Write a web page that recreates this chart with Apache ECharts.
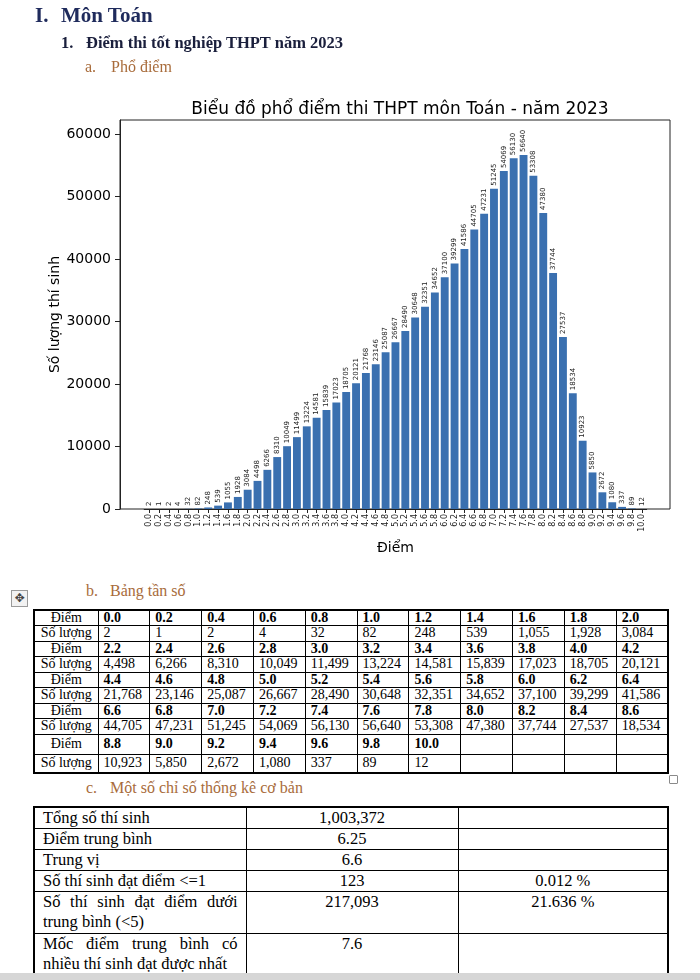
<!DOCTYPE html>
<html><head><meta charset="utf-8">
<script src="https://cdn.jsdelivr.net/npm/echarts@6.0.0/dist/echarts.min.js"></script>
<style>
html,body{margin:0;padding:0;background:#fff;}
body{width:700px;height:980px;position:relative;overflow:hidden;font-family:'Liberation Serif','Times New Roman',serif;color:#000;}
#chart{position:absolute;left:0;top:0;width:700px;height:580px;}
.t{position:absolute;white-space:nowrap;line-height:1;}
.h1{font-size:21px;font-weight:bold;color:#1f2b5c;}
.h2{font-size:16.5px;font-weight:bold;color:#1a1f3c;}
.h3{font-size:16px;color:#a86b3a;}
#freq{position:absolute;left:33px;top:609px;width:636px;border-collapse:collapse;table-layout:fixed;font-size:14px;border:2px solid #000;}
#freq td{border:1px solid #000;padding:0 0 0 5px;line-height:14px;vertical-align:middle;white-space:nowrap;overflow:hidden;}
#freq td.lab{text-align:center;padding:0;}
#freq tr.pts td.v{font-weight:bold;}
#stats{position:absolute;left:33px;top:806px;width:636px;border-collapse:collapse;table-layout:fixed;font-size:16.5px;border:2px solid #000;}
#stats td{border:1px solid #000;vertical-align:top;line-height:20px;padding:0;}
#stats td.c1{padding:0 8px 0 8px;}
#stats td.c2,#stats td.c3{text-align:center;}
.jl{text-align:justify;text-align-last:justify;}
#mv{position:absolute;left:11px;top:590px;width:15px;height:15px;border:1px solid #9a9a9a;background:#f2f2f2;font-family:'DejaVu Sans';font-size:12px;line-height:15px;text-align:center;color:#444;}
#sq{position:absolute;left:669px;top:775px;width:7px;height:7px;border:1px solid #8a8a8a;background:#fff;border-radius:1px;}
#bot{position:absolute;left:0;top:973px;width:700px;height:7px;background:#d6d6d6;}
</style></head>
<body>
<div id="chart"></div>
<div class="t h1" style="left:35px;top:5px;">I.</div>
<div class="t h1" style="left:61px;top:5px;">Môn Toán</div>
<div class="t h2" style="left:61px;top:35px;">1.</div>
<div class="t h2" style="left:86px;top:35px;">Điểm thi tốt nghiệp THPT năm 2023</div>
<div class="t h3" style="left:85px;top:59px;">a.</div>
<div class="t h3" style="left:111px;top:59px;">Phổ điểm</div>
<div id="mv">✥</div>
<div class="t h3" style="left:86px;top:583px;">b.</div>
<div class="t h3" style="left:110px;top:583px;">Bảng tần số</div>
<table id="freq"></table>
<div id="sq"></div>
<div class="t h3" style="left:86px;top:780px;">c.</div>
<div class="t h3" style="left:110px;top:780px;">Một số chỉ số thống kê cơ bản</div>
<table id="stats"></table>
<div id="bot"></div>
<script>
const scores = ['0.0','0.2','0.4','0.6','0.8','1.0','1.2','1.4','1.6','1.8','2.0',
  '2.2','2.4','2.6','2.8','3.0','3.2','3.4','3.6','3.8','4.0','4.2',
  '4.4','4.6','4.8','5.0','5.2','5.4','5.6','5.8','6.0','6.2','6.4',
  '6.6','6.8','7.0','7.2','7.4','7.6','7.8','8.0','8.2','8.4','8.6',
  '8.8','9.0','9.2','9.4','9.6','9.8','10.0'];
const counts = [2,1,2,4,32,82,248,539,1055,1928,3084,
  4498,6266,8310,10049,11499,13224,14581,15839,17023,18705,20121,
  21768,23146,25087,26667,28490,30648,32351,34652,37100,39299,41586,
  44705,47231,51245,54069,56130,56640,53308,47380,37744,27537,18534,
  10923,5850,2672,1080,337,89,12];
const yTicks = [0,10000,20000,30000,40000,50000,60000];

const statLabels = [
  ['Tổng số thí sinh'],
  ['Điểm trung bình'],
  ['Trung vị'],
  ['Số thí sinh đạt điểm <=1'],
  ['Số thí sinh đạt điểm dưới','trung bình (<5)'],
  ['Mốc điểm trung bình có','nhiều thí sinh đạt được nhất']
];
const statValues = ['1,003,372','6.25','6.6','123','217,093','7.6'];
const statPercents = ['','','','0.012 %','21.636 %',''];

// frequency table
(function(){
  const t = document.getElementById('freq');
  let html = '<colgroup><col style="width:64px">';
  for (let i=0;i<11;i++) html += '<col>';
  html += '</colgroup>';
  const heights = [[15.5,15.5],[15.5,15.5],[15.5,15.5],[15.5,15.5],[20,19]];
  for (let r=0;r<5;r++){
    let a = '<tr class="pts" style="height:'+heights[r][0]+'px"><td class="lab">Điểm</td>';
    let b = '<tr style="height:'+heights[r][1]+'px"><td class="lab">Số lượng</td>';
    for (let c=0;c<11;c++){
      const i = r*11+c;
      if (i < scores.length){
        a += '<td class="v">'+scores[i]+'</td>';
        b += '<td class="v">'+counts[i].toLocaleString('en-US')+'</td>';
      } else { a += '<td></td>'; b += '<td></td>'; }
    }
    html += a+'</tr>'+b+'</tr>';
  }
  t.innerHTML = html;
})();
// stats table
(function(){
  const t = document.getElementById('stats');
  let html = '<colgroup><col style="width:212px"><col style="width:212px"><col></colgroup>';
  const hs = [21,20,20,20,42,42];
  for (let i=0;i<statLabels.length;i++){
    const lines = statLabels[i];
    let lab = lines.map((l,k)=> '<div class="'+(k<lines.length-1?'jl':'')+'">'+l+'</div>').join('');
    html += '<tr style="height:'+hs[i]+'px"><td class="c1">'+lab+'</td><td class="c2">'+statValues[i]+'</td><td class="c3">'+statPercents[i]+'</td></tr>';
  }
  t.innerHTML = html;
})();

const chart = echarts.init(document.getElementById('chart'), null, {renderer:'canvas'});
const axisColor = '#222';
chart.setOption({
  animation:false,
  textStyle:{fontFamily:'DejaVu Sans'},
  title:{text:'Biểu đồ phổ điểm thi THPT môn Toán - năm 2023', left:395, top:96, textAlign:'center',
    textStyle:{fontSize:17, fontWeight:'normal', color:'#000', fontFamily:'DejaVu Sans'}},
  grid:[
    {left:120, top:120, width:550, height:389, show:true, borderColor:axisColor, borderWidth:1, backgroundColor:'transparent'},
    {left:144.2, top:120, width:502.5, height:389}
  ],
  xAxis:[
    {gridIndex:0, type:'value', show:false, min:0, max:1},
    {gridIndex:1, type:'category', data:scores, boundaryGap:true,
      axisLine:{show:true, lineStyle:{color:axisColor}},
      axisTick:{show:true, alignWithLabel:true, interval:0, length:4, lineStyle:{color:axisColor}},
      axisLabel:{rotate:90, fontSize:8, interval:0, color:'#222', margin:5, fontFamily:'DejaVu Sans'},
      name:'Điểm', nameLocation:'middle', nameGap:32, nameMoveOverlap:false,
      nameTextStyle:{fontSize:14, color:'#000', fontFamily:'DejaVu Sans'}}
  ],
  yAxis:[
    {gridIndex:0, type:'value', show:false, min:0, max:1},
    {gridIndex:1, type:'value', min:0, max:62240, offset:24.2,
      axisLine:{show:true, lineStyle:{color:axisColor}},
      axisTick:{show:true, length:5, customValues:yTicks, lineStyle:{color:axisColor}},
      axisLabel:{customValues:yTicks, fontSize:14, color:'#000', margin:9, fontFamily:'DejaVu Sans',
        formatter:function(v){return String(v);}},
      splitLine:{show:false},
      name:'Số lượng thí sinh', nameLocation:'middle', nameGap:58, nameMoveOverlap:false,
      nameTextStyle:{fontSize:14, color:'#000', fontFamily:'DejaVu Sans'}}
  ],
  series:[{type:'bar', xAxisIndex:1, yAxisIndex:1, data:counts, barWidth:'80%',
    itemStyle:{color:'#3a70b0'},
    label:{show:true, position:'top', rotate:90, align:'left', verticalAlign:'middle',
      fontSize:7, color:'#222', distance:3, fontFamily:'DejaVu Sans'}}]
});
</script>
</body></html>
